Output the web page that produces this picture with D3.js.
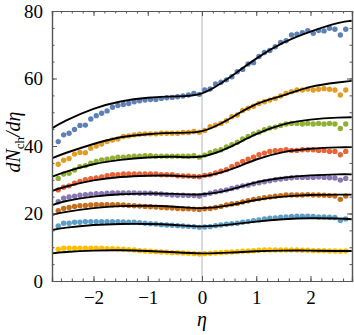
<!DOCTYPE html>
<html>
<head>
<meta charset="utf-8">
<script src="https://cdn.jsdelivr.net/npm/d3@7"></script>
<style>
body { margin: 0; background: #fff; }
svg text { font-family: "Liberation Serif", "DejaVu Serif", serif; }
</style>
</head>
<body>
<div id="chart"></div>
<script>
// eta bin centres -2.65 .. 2.65
var etaBins = [-2.65,-2.55,-2.45,-2.35,-2.25,-2.15,-2.05,-1.95,-1.85,-1.75,-1.65,-1.55,-1.45,-1.35,-1.25,-1.15,-1.05,-0.95,-0.85,-0.75,-0.65,-0.55,-0.45,-0.35,-0.25,-0.15,-0.05,
  0.05,0.15,0.25,0.35,0.45,0.55,0.65,0.75,0.85,0.95,1.05,1.15,1.25,1.35,1.45,1.55,1.65,1.75,1.85,1.95,2.05,2.15,2.25,2.35,2.45,2.55,2.65];

var blueData = [41.3,43.3,43.8,44.9,46.1,46.2,48.0,49.0,49.7,50.4,51.5,52.0,52.3,52.6,53.1,53.4,53.6,53.8,53.8,54.1,54.3,54.4,54.6,54.8,55.1,55.6,55.3,
  56.6,56.9,58.4,58.9,59.6,60.5,62.0,62.7,64.3,64.7,66.5,67.7,68.3,69.4,70.7,71.2,72.9,73.1,73.6,74.2,73.4,74.2,74.1,74.9,74.6,72.9,74.6];
var orangeData = [34.6,35.8,36.3,37.6,38.1,38.0,39.3,40.0,40.6,41.3,41.8,42.1,42.8,43.0,43.3,43.5,43.6,43.6,43.6,43.8,43.8,43.8,43.8,44.0,44.0,44.3,44.1,
  44.6,45.7,46.2,46.7,47.5,48.7,49.2,50.5,51.2,51.8,52.6,53.1,53.6,54.1,54.8,55.6,56.1,56.6,56.6,56.9,56.6,56.8,57.0,56.8,56.6,55.1,56.6];
var greenData = [30.4,31.7,31.9,32.9,33.9,34.2,34.9,35.4,35.9,36.1,36.4,36.7,36.7,36.8,37.0,37.0,37.1,37.1,37.0,37.0,37.0,37.0,37.0,37.0,37.0,37.1,36.7,
  37.3,38.0,38.5,38.9,39.7,40.4,41.1,42.1,42.8,43.6,44.1,44.8,45.3,45.6,46.1,46.5,46.7,46.7,46.5,46.7,46.5,46.7,46.5,46.7,46.5,45.2,46.5];
var redData = [27.0,27.8,28.2,29.0,29.5,30.0,30.3,30.5,30.8,31.2,31.5,31.5,31.7,31.7,31.7,31.7,31.7,31.7,31.7,31.5,31.5,31.5,31.2,31.1,31.1,31.0,30.9,
  31.3,31.5,32.0,32.5,33.0,33.9,34.6,35.4,36.1,36.7,37.4,37.9,38.4,38.6,38.7,38.9,38.7,38.7,38.9,38.9,38.9,38.7,38.7,38.4,38.4,37.4,38.4];
var purpleData = [23.5,24.5,24.9,25.1,25.4,25.6,25.7,25.9,25.9,26.0,26.1,26.1,26.1,26.1,26.1,26.0,26.0,26.0,25.9,25.8,25.6,25.5,25.4,25.4,25.3,25.3,25.2,
  25.6,26.0,26.4,26.7,27.0,27.4,27.8,28.2,28.4,28.8,29.1,29.4,29.7,30.0,30.2,30.4,30.6,30.7,30.7,30.7,30.7,30.8,30.7,30.6,30.5,29.9,30.4];
var brownData = [20.8,21.5,21.8,22.1,22.3,22.4,22.5,22.6,22.6,22.6,22.6,22.6,22.5,22.4,22.3,22.2,22.1,22.0,21.9,21.8,21.7,21.6,21.5,21.4,21.4,21.3,21.2,
  21.4,21.5,21.8,22.1,22.5,22.8,23.0,23.4,23.8,24.2,24.4,24.7,24.9,25.1,25.3,25.5,25.5,25.5,25.5,25.6,25.5,25.5,25.4,25.3,25.2,24.2,25.2];
var ltBlueData = [16.3,17.1,17.1,17.4,17.4,17.6,17.6,17.6,17.6,17.6,17.6,17.6,17.5,17.4,17.4,17.3,17.1,17.0,16.9,16.7,16.6,16.5,16.4,16.3,16.2,16.1,15.9,
  16.0,16.1,16.4,16.6,16.8,17.0,17.1,17.4,17.6,17.9,18.1,18.4,18.6,18.7,18.9,19.0,19.1,19.2,19.2,19.2,19.1,19.0,19.0,18.9,18.8,17.9,18.4];
var yellowData = [9.4,9.7,9.7,9.7,9.7,9.7,9.7,9.7,9.7,9.6,9.6,9.5,9.4,9.3,9.2,9.0,8.9,8.8,8.7,8.6,8.5,8.4,8.4,8.3,8.2,8.1,8.0,
  8.1,8.2,8.3,8.4,8.5,8.6,8.7,8.8,8.9,9.0,9.1,9.2,9.2,9.2,9.2,9.2,9.2,9.2,9.1,9.1,9.0,9.0,9.0,8.9,8.9,8.8,8.9];

// fitted curves, read at these eta nodes
var fitEta = [-2.76,-2.5,-2,-1.5,-1,-0.5,0,0.5,1,1.5,2,2.5,2.76];
var blueFit   = [45.3,47.6,51.0,53.2,54.3,54.7,55.6,60.2,65.9,70.6,73.9,76.4,77.1];
var orangeFit = [36.4,38.0,40.6,42.6,43.5,43.9,44.4,48.0,52.4,55.0,57.5,58.8,59.3];
var greenFit  = [30.9,32.4,34.6,35.9,36.6,36.8,36.9,39.6,43.5,46.4,47.8,48.4,48.5];
var redFit    = [26.7,28.0,29.8,30.8,31.2,31.2,31.0,32.9,36.0,38.2,39.2,39.6,39.7];
var purpleFit = [22.5,23.7,25.0,25.7,25.9,25.8,25.7,27.0,29.2,30.6,31.3,31.6,31.6];
var brownFit  = [19.6,20.5,21.6,22.2,22.3,22.0,21.6,22.4,24.0,25.0,25.5,25.6,25.6];
var ltBlueFit = [15.1,15.8,16.6,16.9,16.9,16.6,16.2,16.7,17.6,18.3,18.6,18.5,18.3];
var yellowFit = [8.2,8.6,9.0,9.1,8.9,8.5,8.2,8.4,8.8,9.0,9.0,8.9,8.9];

var xTicks = [-2,-1,0,1,2];
var yTicks = [0,20,40,60,80];

var seriesData = [blueData,orangeData,greenData,redData,purpleData,brownData,ltBlueData,yellowData];
var seriesFit = [blueFit,orangeFit,greenFit,redFit,purpleFit,brownFit,ltBlueFit,yellowFit];
var colors = ["#5E81B5","#E19C24","#8FB032","#EB6235","#8778B3","#C56E1A","#5D9EC7","#FFBF00"];

var width = 354, height = 335;
var plotLeft = 52, plotRight = 352, plotTop = 11, plotBottom = 281;
var frameColor = "#555";

var svg = d3.select("#chart").append("svg")
	.attr("width", width)
	.attr("height", height);

var x = d3.scaleLinear().domain([-2.765, 2.765]).range([plotLeft, plotRight]);
var y = d3.scaleLinear().domain([0, 80]).range([plotBottom, plotTop]);

//zero line
svg.append("line")
	.attr("x1", x(0)).attr("x2", x(0))
	.attr("y1", plotTop).attr("y2", plotBottom)
	.attr("stroke", "#b4b4b4")
	.attr("stroke-width", 1);

//points
seriesData.forEach(function(vals, k) {
	svg.append("g")
		.selectAll("circle")
		.data(vals)
		.enter().append("circle")
		.attr("cx", function(d, i) { return x(etaBins[i]); })
		.attr("cy", function(d) { return y(d); })
		.attr("r", 2.7)
		.attr("fill", colors[k]);
});

//fit curves
var fitLine = d3.line()
	.x(function(d, i) { return x(fitEta[i]); })
	.y(function(d) { return y(d); })
	.curve(d3.curveNatural);

seriesFit.forEach(function(vals) {
	svg.append("path")
		.attr("d", fitLine(vals))
		.attr("fill", "none")
		.attr("stroke", "#000")
		.attr("stroke-width", 1.9);
});

//frame + ticks (all four sides, inward)
var xMinor = d3.range(-2.6, 2.7, 0.2).map(function(v) { return Math.round(v * 10) / 10; });
var yMinor = d3.range(5, 80, 5);

svg.append("g").attr("transform", "translate(0," + plotBottom + ")")
	.call(d3.axisBottom(x).tickValues(xMinor).tickSize(-2.5).tickFormat(""));
svg.append("g").attr("transform", "translate(0," + plotBottom + ")")
	.call(d3.axisBottom(x).tickValues(xTicks).tickSize(-5).tickPadding(10)
		.tickFormat(function(d) { return d < 0 ? "\u2212" + Math.abs(d) : d; }));
svg.append("g").attr("transform", "translate(0," + plotTop + ")")
	.call(d3.axisTop(x).tickValues(xMinor).tickSize(-2.5).tickFormat(""));
svg.append("g").attr("transform", "translate(0," + plotTop + ")")
	.call(d3.axisTop(x).tickValues(xTicks).tickSize(-5).tickFormat(""));
svg.append("g").attr("transform", "translate(" + plotLeft + ",0)")
	.call(d3.axisLeft(y).tickValues(yMinor).tickSize(-2.5).tickFormat(""));
svg.append("g").attr("transform", "translate(" + plotLeft + ",0)")
	.call(d3.axisLeft(y).tickValues(yTicks).tickSize(-5).tickPadding(9));
svg.append("g").attr("transform", "translate(" + plotRight + ",0)")
	.call(d3.axisRight(y).tickValues(yMinor).tickSize(-2.5).tickFormat(""));
svg.append("g").attr("transform", "translate(" + plotRight + ",0)")
	.call(d3.axisRight(y).tickValues(yTicks).tickSize(-5).tickFormat(""));

svg.selectAll(".domain").attr("stroke", frameColor).attr("stroke-width", 1.2);
svg.selectAll(".tick line").attr("stroke", frameColor);
svg.selectAll(".tick text")
	.attr("font-family", "Liberation Serif")
	.attr("font-size", 19)
	.attr("fill", "#000");

//axis labels
svg.append("text")
	.attr("x", x(0))
	.attr("y", 326)
	.attr("text-anchor", "middle")
	.attr("font-size", 20)
	.attr("font-style", "italic")
	.text("\u03b7");

var yLabel = svg.append("text")
	.attr("transform", "translate(20,142) rotate(-90)")
	.attr("text-anchor", "middle")
	.attr("font-size", 20);
yLabel.append("tspan").attr("font-style", "italic").text("dN");
yLabel.append("tspan").attr("font-size", 13).attr("dy", 4).text("ch");
yLabel.append("tspan").attr("font-style", "italic").attr("dy", -4).text("/d\u03b7");
</script>
</body>
</html>
